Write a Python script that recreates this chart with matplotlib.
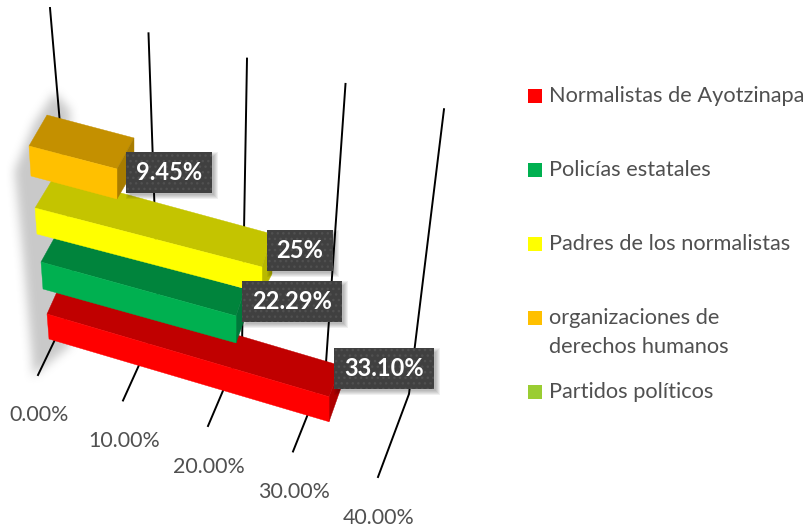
import numpy as np
import matplotlib
matplotlib.use('Agg')
import matplotlib.pyplot as plt
from matplotlib.path import Path
from matplotlib.patches import Polygon, Rectangle

plt.rcParams['font.family'] = ['Lato', 'DejaVu Sans']

# data
names = ['Normalistas de Ayotzinapa', 'Policías estatales', 'Padres de los normalistas',
         'organizaciones de\nderechos humanos', 'Partidos políticos']
values = [33.10, 22.29, 25, 9.45]
value_labels = ['33.10%', '22.29%', '25%', '9.45%']
ticks = [0, 10, 20, 30, 40]
tick_labels = ['0.00%', '10.00%', '20.00%', '30.00%', '40.00%']

# colours
front_col = ['#FF0000', '#00B050', '#FFFF00', '#FFC000', '#9ACD32']
top_col = ['#C00000', '#00843C', '#C4C400', '#C49000']
side_col = ['#AE0000', '#00783A', '#B8B800', '#A87C00']
txt_col = '#505050'

# faked perspective, one row per bar:
# x0, y0, dx per unit, dy per unit, height, depth x left, depth x right, depth y top, depth y bottom
rows = [(49, 339, 8.46, 2.50, 25, 14, 12, -31, -34),
        (43, 289, 8.66, 2.42, 27, 15, 9, -27, -25),
        (37, 234, 9.00, 2.36, 26, 20, 10, -33, -19),
        (31, 176, 9.10, 2.43, 30, 18, 17, -31, -29)]
# label box centre relative to the bar end
label_off = [(55, -28), (56, -14), (38, -17), (52, 4)]


def floor_front(v):
    return 38 + 8.5 * v, 375 + 2.55 * v


def floor_back(v):
    return 75 + 8.35 * v, 298 + 2.4 * v


def wall_top(v):
    return 50 + 9.85 * v, 8 + 2.53 * v


fig = plt.figure(figsize=(8.11, 5.31), dpi=100)
ax = fig.add_axes([0, 0, 1, 1])
ax.axis('off')

# soft grey shade down the left wall
yy, xx = np.mgrid[0:531, 0:150]
shade = Path([(54, 92), (34, 122), (14, 170), (23, 260), (33, 375), (70, 345), (70, 110)])
mask = shade.contains_points(np.c_[xx.ravel(), yy.ravel()]).reshape(xx.shape).astype(float)
kernel = np.ones(11) / 11
for i in range(2):
    mask = np.apply_along_axis(lambda m: np.convolve(m, kernel, mode='same'), 0, mask)
    mask = np.apply_along_axis(lambda m: np.convolve(m, kernel, mode='same'), 1, mask)
rgba = np.zeros(mask.shape + (4,))
rgba[..., :3] = 0.62
rgba[..., 3] = mask * 0.55
ax.imshow(rgba, extent=(0, 150, 531, 0), aspect='auto', zorder=1, interpolation='bilinear')
ax.set_xlim(0, 811)
ax.set_ylim(531, 0)

# gridlines and tick labels
for v, lab in zip(ticks, tick_labels):
    a, b, c = floor_front(v), floor_back(v), wall_top(v)
    ax.plot([a[0], b[0], c[0]], [a[1], b[1], c[1]], color='black', lw=1.4, zorder=2)
    ax.text(39 + 8.5 * v, 415 + 2.58 * v, lab, color=txt_col, fontsize=15.4,
            ha='center', va='center', zorder=2)

# bars, front row first since the upper ones overlap it
for i, val in enumerate(values):
    x0, y0, dx, dy, h, pxl, pxr, pyt, pyb = rows[i]
    bl = (x0, y0)
    tl = (x0 - 2, y0 - h)
    br = (x0 + dx * val, y0 + dy * val)
    tr = (br[0], br[1] - h)
    btl = (tl[0] + pxl, tl[1] + pyt)
    btr = (tr[0] + pxr, tr[1] + pyt)
    bbr = (br[0] + pxr, br[1] + pyb)
    z = 3 + i
    ax.add_patch(Polygon([tl, btl, btr, tr], fc=top_col[i], ec=top_col[i], lw=0.3, zorder=z))
    ax.add_patch(Polygon([tr, btr, bbr, br], fc=side_col[i], ec=side_col[i], lw=0.3, zorder=z))
    ax.add_patch(Polygon([tl, tr, br, bl], fc=front_col[i], ec=front_col[i], lw=0.3, zorder=z))

# value labels sit on top of everything, box is sized from the text
fig.canvas.draw()
rend = fig.canvas.get_renderer()
for i, val in enumerate(values):
    x0, y0, dx, dy, h = rows[i][:5]
    cx = x0 + dx * val + label_off[i][0]
    cy = y0 + dy * val - h + label_off[i][1]
    t = ax.text(cx, cy, value_labels[i], color='white', fontsize=17, fontweight='bold',
                ha='center', va='center', zorder=12)
    w = t.get_window_extent(rend).width + 20
    box_h = 41
    for s in range(5):
        ax.add_patch(Rectangle((cx - w / 2 + 4 - s, cy - box_h / 2 + 4 - s), w + 2 * s - 2, box_h + 2 * s - 2,
                               fc='black', ec='none', alpha=0.06, zorder=10))
    ax.add_patch(Rectangle((cx - w / 2, cy - box_h / 2), w, box_h, fc='#404040', ec='#505050',
                           lw=0, hatch='...', zorder=11))

# legend
for i, name in enumerate(names):
    yc = 96 + 74 * i
    ax.add_patch(Rectangle((528, yc - 7), 14, 14, fc=front_col[i], ec='none', zorder=3))
    for j, line in enumerate(name.split('\n')):
        ax.text(549, yc + 29 * j, line, color=txt_col, fontsize=15.7, ha='left', va='center')

fig.savefig('out.png', dpi=100)
